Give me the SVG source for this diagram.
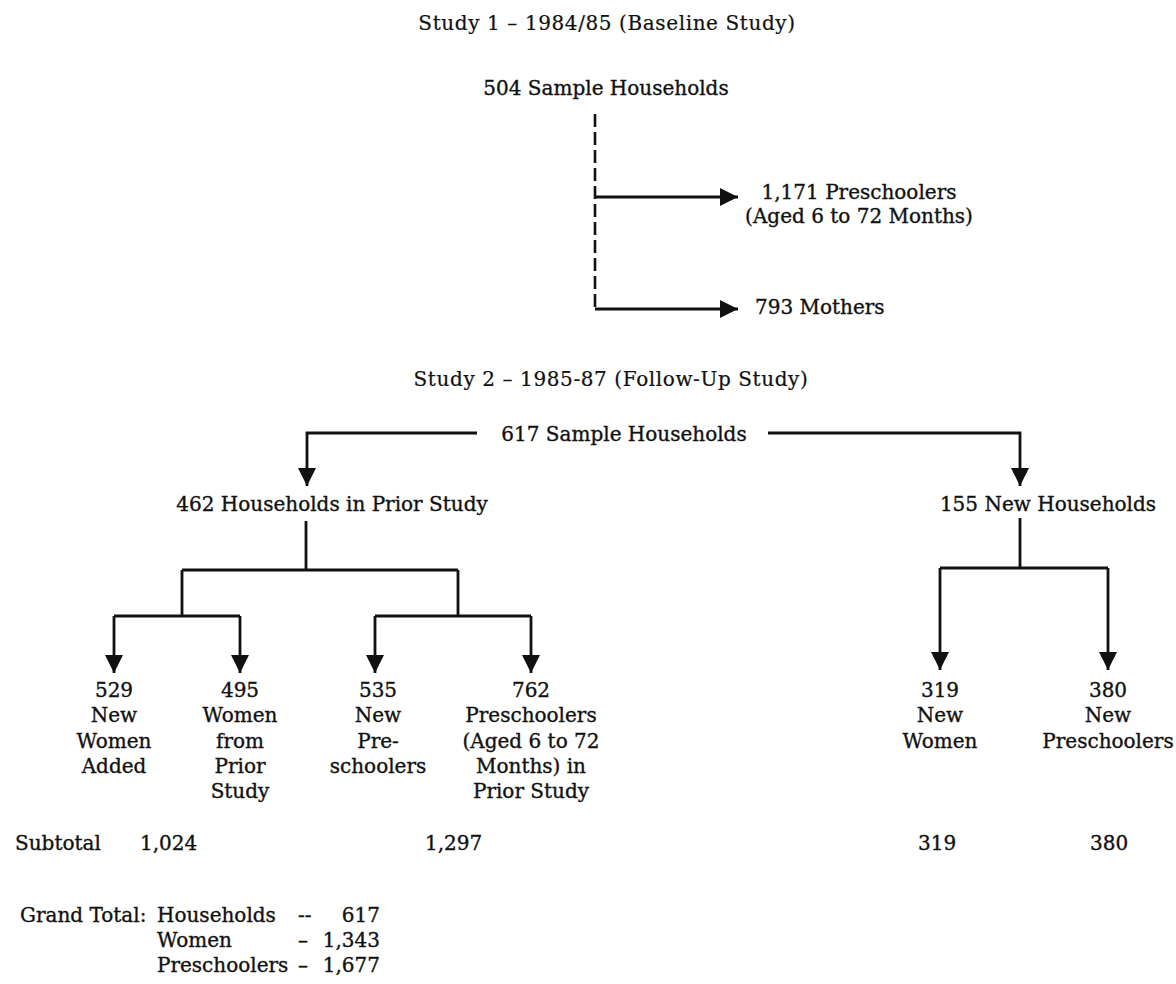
<svg xmlns="http://www.w3.org/2000/svg" width="1176" height="984" viewBox="0 0 1176 984">
<style>
text{font-family:"DejaVu Serif","Liberation Serif",serif;font-size:20px;fill:#111;stroke:#111;stroke-width:0.35}
.t{font-size:20px;letter-spacing:0.6px;stroke-width:0.2}
.c{text-anchor:middle}
.e{text-anchor:end}
.ln{fill:none;stroke:#111;stroke-width:2.8}
.dash{fill:none;stroke:#111;stroke-width:2.6;stroke-dasharray:13 5}
</style>
<defs>
<marker id="ah" viewBox="0 0 18 18" refX="18" refY="9" markerWidth="18" markerHeight="18" markerUnits="userSpaceOnUse" orient="auto">
<path d="M0,0 L18,9 L0,18 z" fill="#111"/>
</marker>
</defs>
<rect width="1176" height="984" fill="#fff"/>

<g id="connectors">
<line class="dash" x1="595" y1="114" x2="595" y2="309"/>
<path class="ln" d="M595,197 H738" marker-end="url(#ah)"/>
<path class="ln" d="M595,309 H738" marker-end="url(#ah)"/>
<path class="ln" d="M477,433 H307 V486" marker-end="url(#ah)"/>
<path class="ln" d="M768,433 H1020 V486" marker-end="url(#ah)"/>
<path class="ln" d="M306,521 V570 M182,570 H458 M182,570 V616 M458,570 V616"/>
<path class="ln" d="M114,616 H240"/>
<path class="ln" d="M114,616 V673" marker-end="url(#ah)"/>
<path class="ln" d="M240,616 V673" marker-end="url(#ah)"/>
<path class="ln" d="M375,616 H531"/>
<path class="ln" d="M375,616 V673" marker-end="url(#ah)"/>
<path class="ln" d="M531,616 V673" marker-end="url(#ah)"/>
<path class="ln" d="M1020,518 V568 M940,568 H1108"/>
<path class="ln" d="M940,568 V670" marker-end="url(#ah)"/>
<path class="ln" d="M1108,568 V670" marker-end="url(#ah)"/>
</g>

<g id="study1-title"><text class="c t" x="607" y="30">Study 1 – 1984/85 (Baseline Study)</text></g>
<g id="n504"><text class="c" x="606" y="95">504 Sample Households</text></g>
<g id="n1171"><text class="c" x="859" y="199">1,171 Preschoolers</text><text class="c" x="859" y="223">(Aged 6 to 72 Months)</text></g>
<g id="n793"><text x="755" y="314">793 Mothers</text></g>

<g id="study2-title"><text class="c t" x="611" y="386">Study 2 – 1985-87 (Follow-Up Study)</text></g>
<g id="n617"><text class="c" x="624" y="441">617 Sample Households</text></g>
<g id="n462"><text class="c" x="332" y="511">462 Households in Prior Study</text></g>
<g id="n155"><text class="c" x="1048" y="511">155 New Households</text></g>

<g id="n529"><text class="c" x="114" y="697">529</text><text class="c" x="114" y="722">New</text><text class="c" x="114" y="748">Women</text><text class="c" x="114" y="773">Added</text></g>
<g id="n495"><text class="c" x="240" y="697">495</text><text class="c" x="240" y="722">Women</text><text class="c" x="240" y="748">from</text><text class="c" x="240" y="773">Prior</text><text class="c" x="240" y="798">Study</text></g>
<g id="n535"><text class="c" x="378" y="697">535</text><text class="c" x="378" y="722">New</text><text class="c" x="378" y="748">Pre-</text><text class="c" x="378" y="773">schoolers</text></g>
<g id="n762"><text class="c" x="531" y="697">762</text><text class="c" x="531" y="722">Preschoolers</text><text class="c" x="531" y="748">(Aged 6 to 72</text><text class="c" x="531" y="773">Months) in</text><text class="c" x="531" y="798">Prior Study</text></g>
<g id="n319"><text class="c" x="940" y="697">319</text><text class="c" x="940" y="722">New</text><text class="c" x="940" y="748">Women</text></g>
<g id="n380"><text class="c" x="1108" y="697">380</text><text class="c" x="1108" y="722">New</text><text class="c" x="1108" y="748">Preschoolers</text></g>

<g id="subtotals">
<text x="15" y="850">Subtotal</text>
<text x="140" y="850">1,024</text>
<text x="425" y="850">1,297</text>
<text x="918" y="850">319</text>
<text x="1090" y="850">380</text>
</g>

<g id="grand-total">
<text x="20" y="922">Grand Total:</text>
<text x="157" y="922">Households</text><text x="298" y="922">--</text><text class="e" x="380" y="922">617</text>
<text x="157" y="947">Women</text><text x="298" y="947">–</text><text class="e" x="380" y="947">1,343</text>
<text x="157" y="972">Preschoolers</text><text x="298" y="972">–</text><text class="e" x="380" y="972">1,677</text>
</g>
</svg>
